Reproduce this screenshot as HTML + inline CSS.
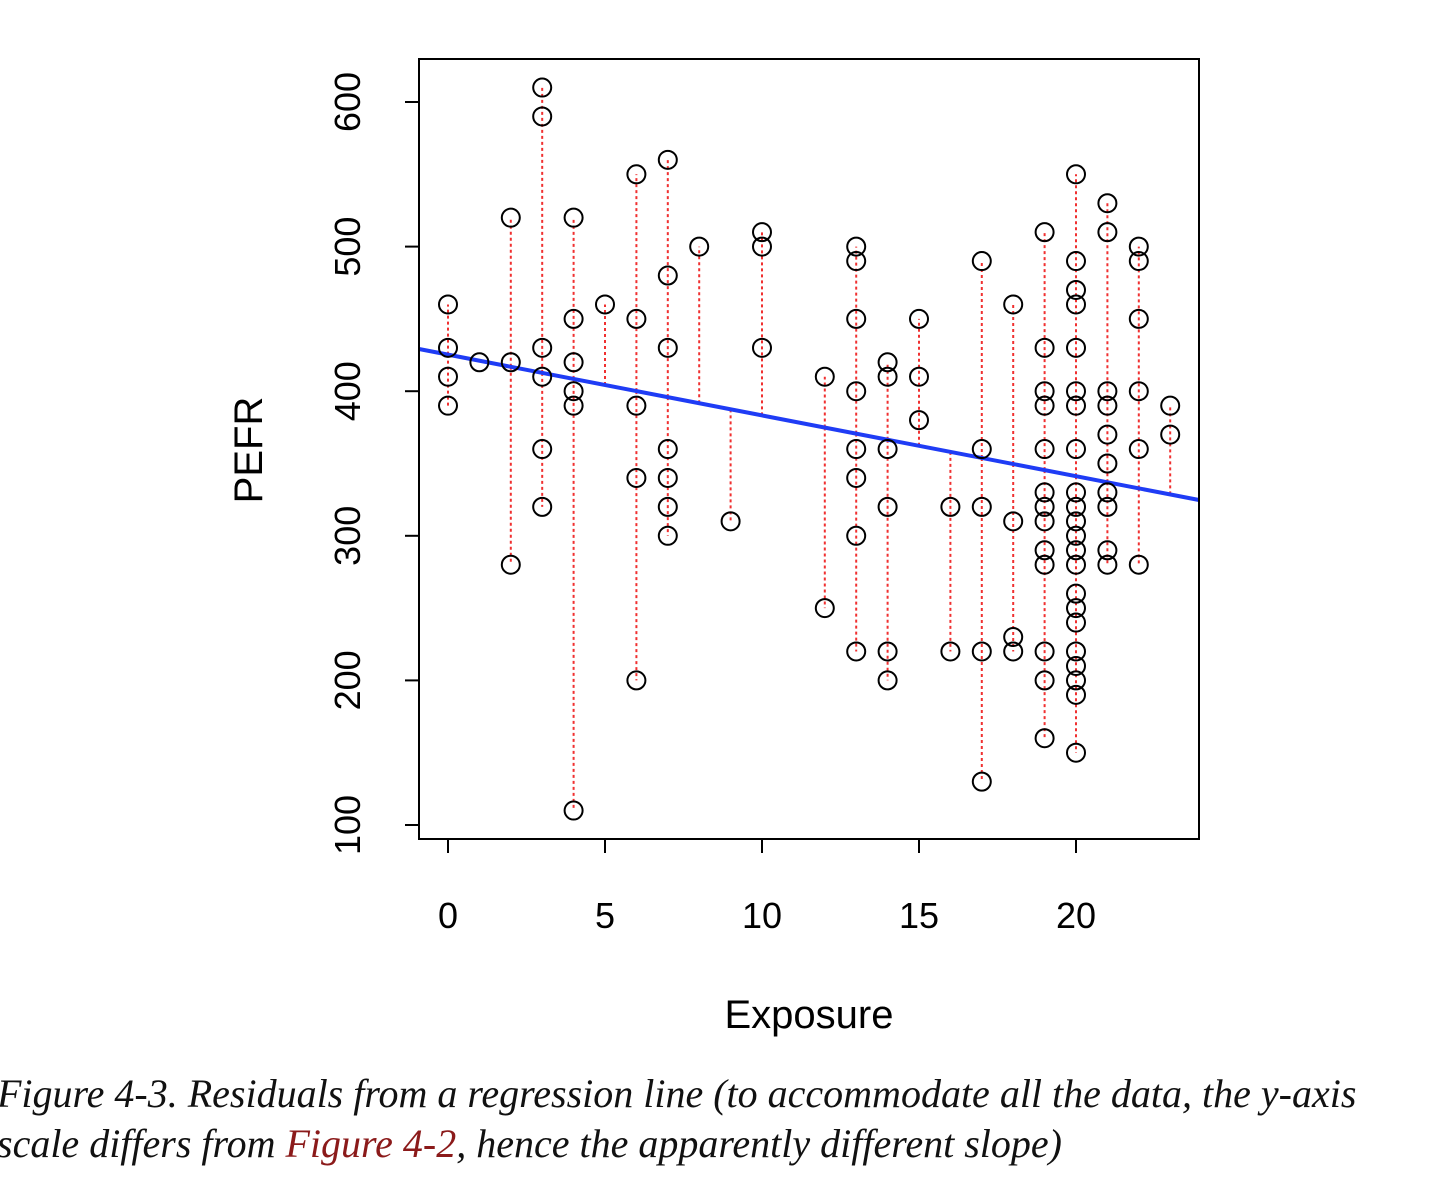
<!DOCTYPE html>
<html><head><style>
body{margin:0;background:#fff;width:1444px;height:1196px;overflow:hidden}
.cap{position:absolute;left:-3px;font-family:"Liberation Serif",serif;font-style:italic;font-size:40px;color:#111;white-space:nowrap}
</style></head><body>
<svg id="s" width="1444" height="1196" style="position:absolute;left:0;top:0" font-family="Liberation Sans, sans-serif"></svg>
<div class="cap" style="top:1070px">Figure 4-3. Residuals from a regression line (to accommodate all the data, the y-axis</div>
<div class="cap" style="top:1120px">scale differs from <span style="color:#8b1a1a">Figure 4-2</span>, hence the apparently different slope)</div>
<script>
const s=document.getElementById('s');let h='';
const X=x=>448+x*31.4, Y=y=>825-(y-100)*1.446;
const L=px=>349+(px-419)*(151/780);
const d={0:[460,430,410,390],1:[420],2:[520,420,280],3:[610,590,430,410,360,320],4:[520,450,420,400,390,110],5:[460],6:[550,450,390,340,200],7:[560,480,430,360,340,320,300],8:[500],9:[310],10:[510,500,430],12:[410,250],13:[500,490,450,400,360,340,300,220],14:[420,410,360,320,220,200],15:[450,410,380],16:[320,220],17:[490,360,320,220,130],18:[460,310,230,220],19:[510,430,400,390,360,330,320,310,290,280,220,200,160],20:[550,490,470,460,430,400,390,360,330,320,310,300,290,280,260,250,240,220,210,200,190,150],21:[530,510,400,390,370,350,330,320,290,280],22:[500,490,450,400,360,280],23:[390,370]};
let c='',r='';
for(const k in d){const px=X(+k);const ly=L(px);const vs=d[k];
 const top=Math.min(...vs.map(Y)),bot=Math.max(...vs.map(Y));
 if(top<ly) r+=`<line x1="${px}" y1="${ly}" x2="${px}" y2="${top}" stroke="#f03030" stroke-width="2" stroke-dasharray="3,3"/>`;
 if(bot>ly) r+=`<line x1="${px}" y1="${ly}" x2="${px}" y2="${bot}" stroke="#f03030" stroke-width="2" stroke-dasharray="3,3"/>`;
 for(const v of vs){c+=`<circle cx="${px}" cy="${Y(v)}" r="9" fill="none" stroke="#000" stroke-width="2"/>`;}}
h+=r;
h+=`<line x1="419" y1="349" x2="1199" y2="500" stroke="#1f3cf5" stroke-width="4"/>`;
h+=c;
h+=`<rect x="419" y="59" width="780" height="780" fill="none" stroke="#000" stroke-width="2"/>`;
for(let i=0;i<=20;i+=5){const px=X(i);h+=`<line x1="${px}" y1="839" x2="${px}" y2="853" stroke="#000" stroke-width="2"/><text x="${px}" y="928" font-size="36" text-anchor="middle">${i}</text>`;}
for(let v=100;v<=600;v+=100){const py=Y(v);h+=`<line x1="405" y1="${py}" x2="419" y2="${py}" stroke="#000" stroke-width="2"/><text transform="translate(360,${py}) rotate(-90)" font-size="36" text-anchor="middle">${v}</text>`;}
h+=`<text transform="translate(262,450) rotate(-90)" font-size="40" text-anchor="middle">PEFR</text>`;
h+=`<text x="809" y="1028" font-size="40" text-anchor="middle">Exposure</text>`;
s.innerHTML=h;
</script>
</body></html>
